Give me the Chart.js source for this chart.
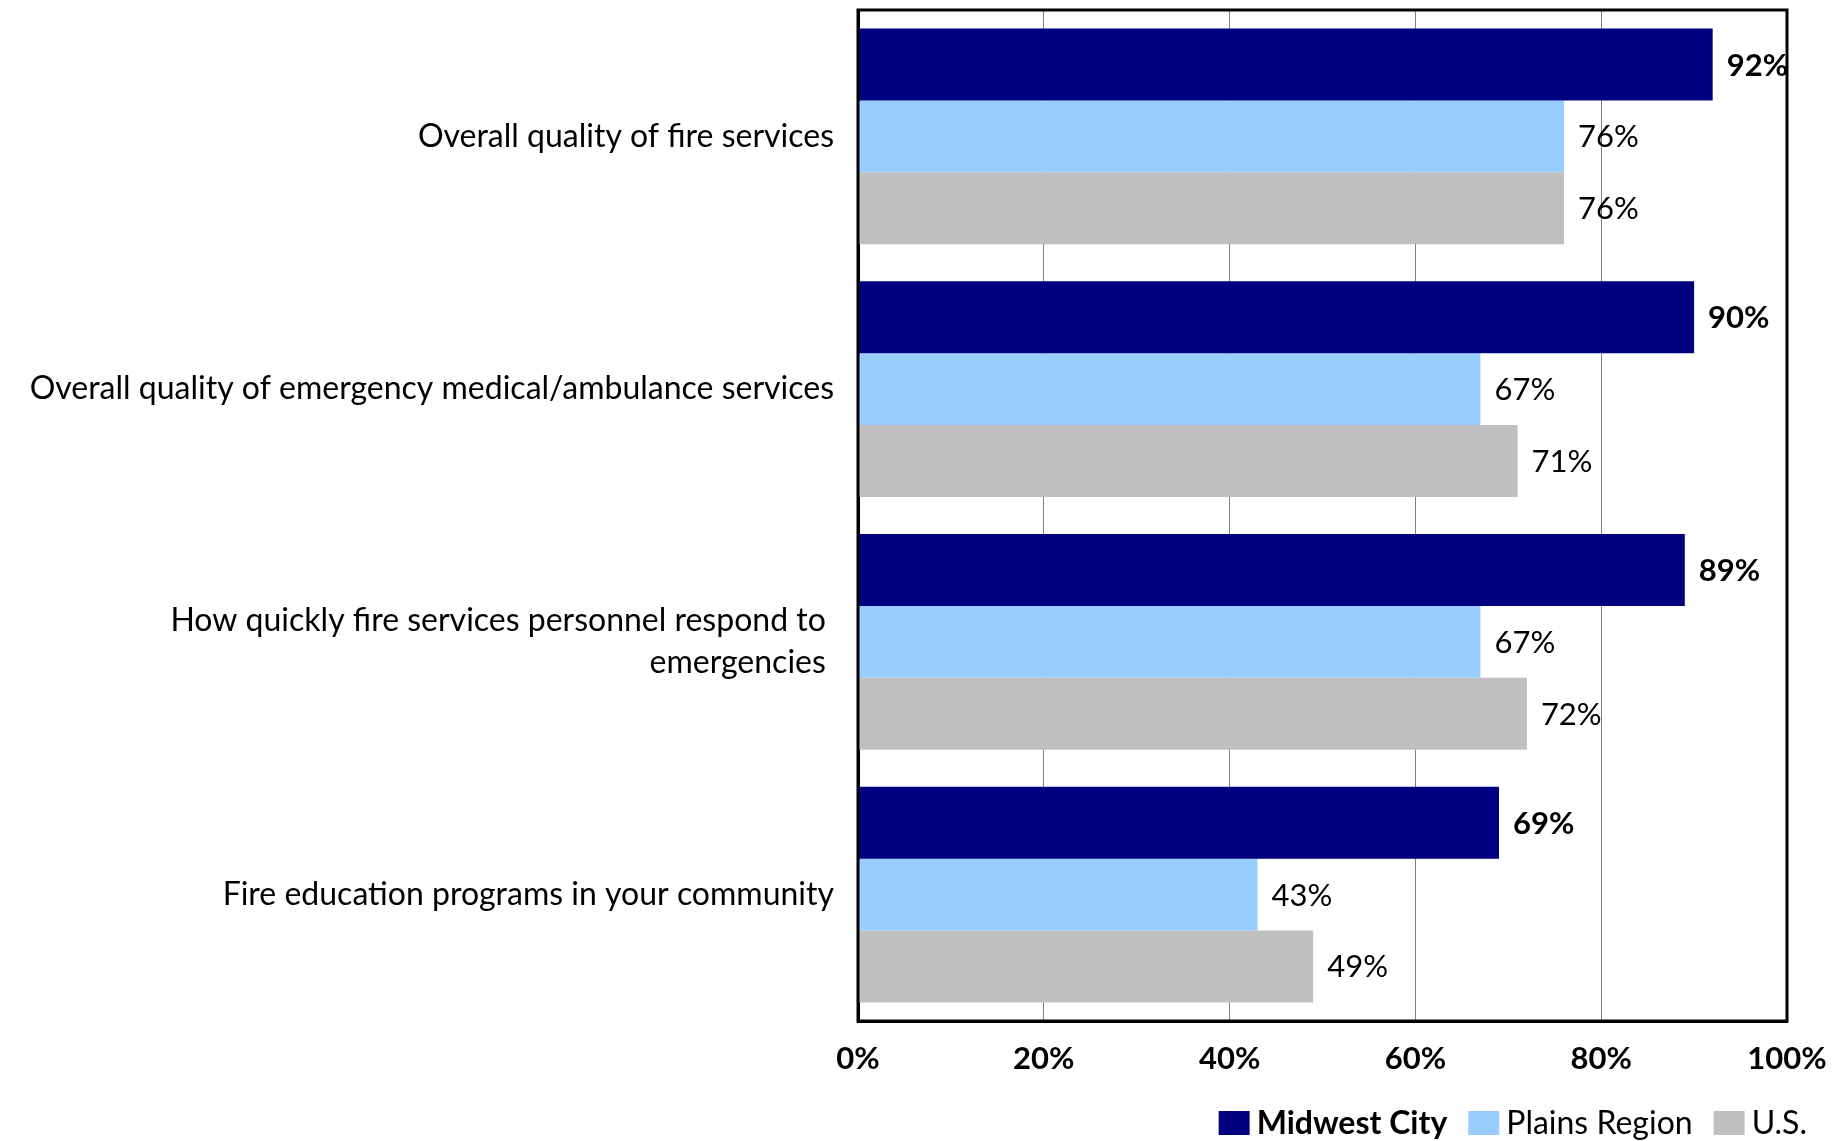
<!DOCTYPE html>
<html lang="en">
<head>
    <meta charset="UTF-8">
    <title>Fire and EMS Ratings</title>
    <style>
        html, body { margin: 0; padding: 0; background: #fff; }
        #wrap { width: 1848px; height: 1141px; position: relative; }
    </style>
    <script src="https://cdn.jsdelivr.net/npm/chart.js"></script>
</head>
<body>
    <div id="wrap"><canvas id="ratingsChart"></canvas></div>

    <script>
        // Categorias e valores (% positivo)
        const categories = [
            'Overall quality of fire services',
            'Overall quality of emergency medical/ambulance services',
            ['How quickly fire services personnel respond to ', 'emergencies '],
            'Fire education programs in your community'
        ];
        const seriesNames = ['Midwest City', 'Plains Region', 'U.S.'];
        const midwestCity = [92, 90, 89, 69];
        const plainsRegion = [76, 67, 67, 43];
        const usValues = [76, 71, 72, 49];
        const xTicks = [0, 20, 40, 60, 80, 100];

        const colors = ['#000080', '#99CCFF', '#C0C0C0'];
        const FONT = 'Lato';
        const SMALL = 31;   // ticks e rótulos de valor
        const LARGE = 32;   // categorias e legenda

        // Moldura preta em volta da área do gráfico
        const frame = {
            id: 'frame',
            afterDraw(chart) {
                const a = chart.chartArea, c = chart.ctx;
                c.save();
                c.strokeStyle = '#000';
                c.lineWidth = 3;
                c.strokeRect(a.left, a.top, a.right - a.left, a.bottom - a.top);
                c.restore();
            }
        };

        // Rótulos de valor à direita de cada barra
        const valueLabels = {
            id: 'valueLabels',
            afterDatasetsDraw(chart) {
                const c = chart.ctx;
                c.save();
                c.textBaseline = 'middle';
                c.textAlign = 'left';
                c.fillStyle = '#000';
                chart.data.datasets.forEach((ds, i) => {
                    c.font = (i === 0 ? 'bold ' : '') + SMALL + 'px ' + FONT;
                    chart.getDatasetMeta(i).data.forEach((bar, j) => {
                        c.fillText(ds.data[j] + '%', bar.x + 14, bar.y + 1);
                    });
                });
                c.restore();
            }
        };

        // Legenda desenhada à mão (primeiro item em negrito)
        const legendBox = {
            id: 'legendBox',
            afterDraw(chart) {
                const c = chart.ctx;
                const boxW = 31, boxH = 24, gap = 7, itemGap = 21;
                const right = 1807, cy = 1123;
                c.save();
                c.textBaseline = 'middle';
                const items = chart.data.datasets.map((ds, i) => {
                    c.font = (i === 0 ? 'bold ' : '') + LARGE + 'px ' + FONT;
                    return { ds, font: c.font, w: c.measureText(ds.label).width };
                });
                let total = items.reduce((s, it) => s + boxW + gap + it.w, 0) + itemGap * (items.length - 1);
                let x = right - total;
                items.forEach(it => {
                    c.fillStyle = it.ds.backgroundColor;
                    c.fillRect(x, cy - boxH / 2, boxW, boxH);
                    x += boxW + gap;
                    c.font = it.font;
                    c.fillStyle = '#000';
                    c.fillText(it.ds.label, x, cy + 1);
                    x += it.w + itemGap;
                });
                c.restore();
            }
        };

        const ctx = document.getElementById('ratingsChart').getContext('2d');
        new Chart(ctx, {
            type: 'bar',
            data: {
                labels: categories,
                datasets: [
                    { label: seriesNames[0], data: midwestCity, backgroundColor: colors[0] },
                    { label: seriesNames[1], data: plainsRegion, backgroundColor: colors[1] },
                    { label: seriesNames[2], data: usValues, backgroundColor: colors[2] }
                ]
            },
            options: {
                indexAxis: 'y',
                responsive: true,
                maintainAspectRatio: false,
                animation: false,
                devicePixelRatio: 1,
                datasets: {
                    bar: { barPercentage: 1, categoryPercentage: 0.853 }
                },
                layout: { padding: { top: 10, right: 61, bottom: 60, left: 0 } },
                plugins: {
                    legend: { display: false },
                    tooltip: { enabled: false }
                },
                scales: {
                    x: {
                        min: 0,
                        max: 100,
                        afterBuildTicks(scale) {
                            scale.ticks = xTicks.map(v => ({ value: v }));
                        },
                        afterFit(scale) { scale.height = 60; },
                        ticks: {
                            callback: v => v + '%',
                            color: '#000',
                            font: { family: FONT, size: SMALL, weight: 'bold' },
                            padding: 19,
                            maxRotation: 0
                        },
                        grid: { color: '#7f7f7f', lineWidth: 1, drawTicks: false },
                        border: { color: '#000', width: 3 }
                    },
                    y: {
                        afterFit(scale) {
                            scale.width = 858;
                            scale.paddingTop = 0;
                            scale.paddingBottom = 0;
                        },
                        ticks: {
                            color: '#000',
                            font: { family: FONT, size: LARGE, lineHeight: 1.3 },
                            padding: 24
                        },
                        grid: { display: false, drawTicks: false },
                        border: { color: '#000', width: 3 }
                    }
                }
            },
            plugins: [frame, valueLabels, legendBox]
        });
    </script>
</body>
</html>
